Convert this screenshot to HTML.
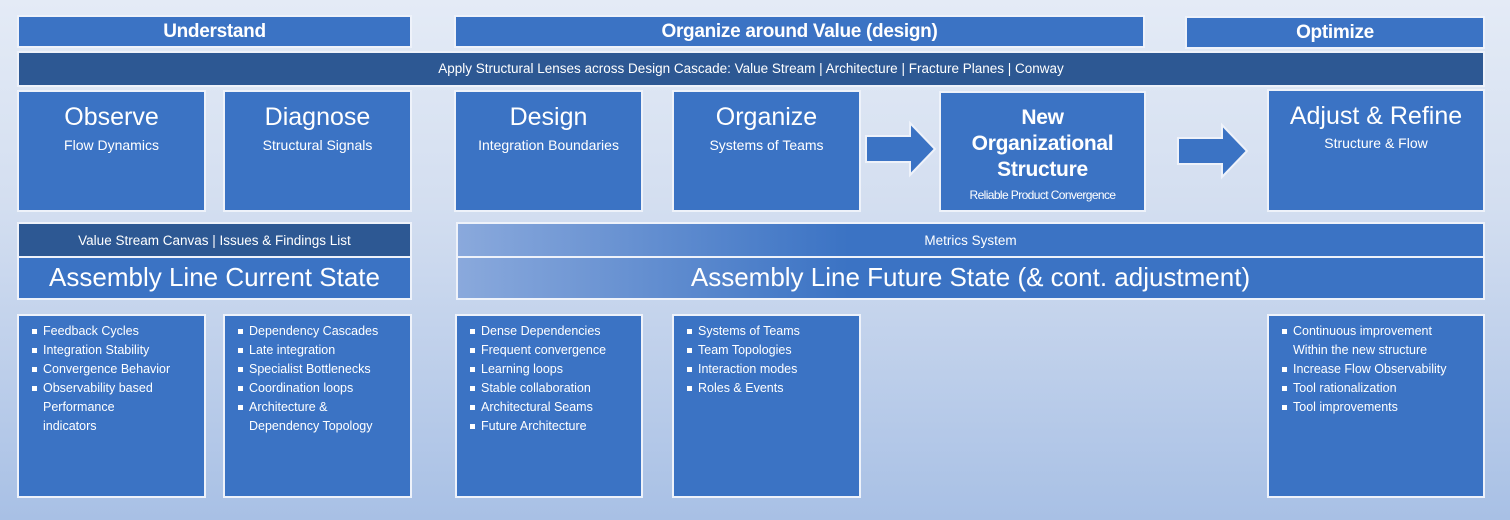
<!DOCTYPE html>
<html><head><meta charset="utf-8"><style>
*{margin:0;padding:0;box-sizing:border-box}
body{width:1510px;height:520px;overflow:hidden;position:relative;font-family:"Liberation Sans",sans-serif;color:#fff;
background:linear-gradient(180deg,#e4ebf6 0%,#d3def0 40%,#a8c0e5 100%)}
.b{position:absolute;background:#3b73c4;border:2px solid #eef2fa;text-align:center}
.d{background:#2d5893}
.t{font-size:19px;font-weight:bold;line-height:30px;letter-spacing:-0.3px}
.h{font-size:25px;line-height:30px;margin-top:10px}
.s{font-size:14px;line-height:20px;margin-top:3px}
ul{list-style:none;text-align:left;font-size:12.5px;line-height:19px;padding:6px 0 0 12px;white-space:nowrap}
li{position:relative;padding-left:12px}
li:before{content:"";position:absolute;left:1px;top:7px;width:5px;height:5px;background:#fff}
.arr{position:absolute}
</style></head><body>
<div class="b t" style="left:17px;top:15px;width:395px;height:33px">Understand</div>
<div class="b t" style="left:454px;top:15px;width:691px;height:33px">Organize around Value (design)</div>
<div class="b t" style="left:1185px;top:16px;width:300px;height:33px">Optimize</div>
<div class="b d" style="left:17px;top:51px;width:1468px;height:36px;font-size:13.5px;line-height:32px">Apply Structural Lenses across Design Cascade: Value Stream | Architecture | Fracture Planes | Conway</div>

<div class="b" style="left:17px;top:90px;width:189px;height:122px"><div class="h">Observe</div><div class="s">Flow Dynamics</div></div>
<div class="b" style="left:223px;top:90px;width:189px;height:122px"><div class="h">Diagnose</div><div class="s">Structural Signals</div></div>
<div class="b" style="left:454px;top:90px;width:189px;height:122px"><div class="h">Design</div><div class="s">Integration Boundaries</div></div>
<div class="b" style="left:672px;top:90px;width:189px;height:122px"><div class="h">Organize</div><div class="s">Systems of Teams</div></div>
<div class="b" style="left:939px;top:91px;width:207px;height:121px"><div style="font-size:21px;font-weight:bold;line-height:26px;margin-top:12px;letter-spacing:-0.3px">New<br>Organizational<br>Structure</div><div style="font-size:12px;letter-spacing:-0.6px;margin-top:5px">Reliable Product Convergence</div></div>
<div class="b" style="left:1267px;top:89px;width:218px;height:123px"><div class="h" style="margin-top:10px">Adjust &amp; Refine</div><div class="s" style="margin-top:2px">Structure &amp; Flow</div></div>

<svg class="arr" style="left:862px;top:120px" width="80" height="60"><polygon points="4,16 48,16 48,3 73,29 48,55 48,42 4,42" fill="#3b73c4" stroke="#eef2fa" stroke-width="2"/></svg>
<svg class="arr" style="left:1174px;top:122px" width="80" height="60"><polygon points="4,16 48,16 48,3 73,29 48,55 48,42 4,42" fill="#3b73c4" stroke="#eef2fa" stroke-width="2"/></svg>

<div class="b d" style="left:17px;top:222px;width:395px;height:36px;font-size:13.5px;line-height:34px">Value Stream Canvas | Issues &amp; Findings List</div>
<div class="b" style="left:17px;top:256px;width:395px;height:44px;font-size:26px;line-height:38px">Assembly Line Current State</div>
<div class="b" style="left:456px;top:222px;width:1029px;height:36px;font-size:13.5px;line-height:34px;background:linear-gradient(90deg,#8aa9dc 0%,#3b73c4 38%)">Metrics System</div>
<div class="b" style="left:456px;top:256px;width:1029px;height:44px;font-size:26px;line-height:38px;background:linear-gradient(90deg,#8aa9dc 0%,#3b73c4 38%)">Assembly Line Future State (&amp; cont. adjustment)</div>

<div class="b" style="left:17px;top:314px;width:189px;height:184px"><ul><li>Feedback Cycles</li><li>Integration Stability</li><li>Convergence Behavior</li><li>Observability based<br>Performance<br>indicators</li></ul></div>
<div class="b" style="left:223px;top:314px;width:189px;height:184px"><ul><li>Dependency Cascades</li><li>Late integration</li><li>Specialist Bottlenecks</li><li>Coordination loops</li><li>Architecture &amp;<br>Dependency Topology</li></ul></div>
<div class="b" style="left:455px;top:314px;width:188px;height:184px"><ul><li>Dense Dependencies</li><li>Frequent convergence</li><li>Learning loops</li><li>Stable collaboration</li><li>Architectural Seams</li><li>Future Architecture</li></ul></div>
<div class="b" style="left:672px;top:314px;width:189px;height:184px"><ul><li>Systems of Teams</li><li>Team Topologies</li><li>Interaction modes</li><li>Roles &amp; Events</li></ul></div>
<div class="b" style="left:1267px;top:314px;width:218px;height:184px"><ul><li>Continuous improvement<br>Within the new structure</li><li>Increase Flow Observability</li><li>Tool rationalization</li><li>Tool improvements</li></ul></div>
</body></html>
